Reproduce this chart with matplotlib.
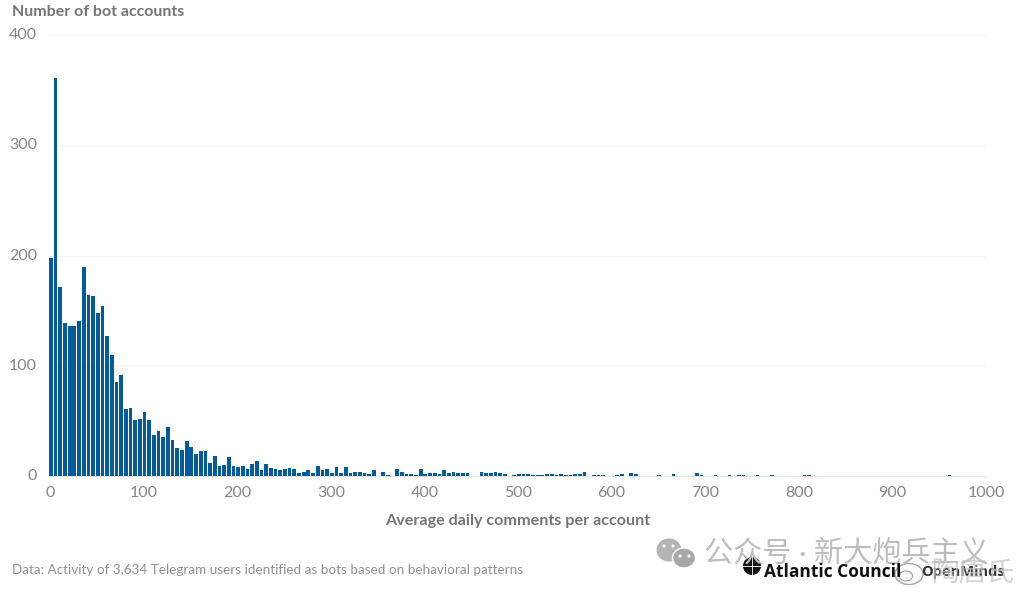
import matplotlib
matplotlib.use("Agg")
import matplotlib.pyplot as plt
from matplotlib.patches import Ellipse, Circle

plt.rcParams['font.family'] = ['Lato', 'Noto Sans CJK SC', 'DejaVu Sans']

bin_width = 5
# bot accounts per 5-comment bin
counts_0_200 = [198, 361, 171, 139, 136, 136, 141, 190, 164, 163,
                148, 154, 127, 110, 85, 92, 61, 62, 51, 52,
                58, 51, 37, 41, 35, 44, 33, 25, 24, 32,
                26, 20, 23, 23, 12, 18, 9, 10, 17, 9]
counts_200_400 = [8, 9, 6, 11, 14, 5, 11, 7, 6, 5,
                  6, 7, 6, 3, 4, 5, 3, 9, 5, 6,
                  3, 8, 3, 8, 3, 4, 4, 3, 2, 5,
                  0, 4, 1, 0, 6, 4, 2, 2, 1, 6]
counts_400_600 = [2, 3, 3, 2, 5, 3, 4, 3, 3, 3,
                  0, 0, 4, 3, 3, 4, 3, 2, 0, 1,
                  2, 2, 2, 1, 1, 1, 2, 2, 1, 2,
                  1, 1, 2, 2, 4, 0, 1, 1, 1, 0]
counts_600_800 = [0, 1, 2, 0, 3, 2, 0, 0, 0, 0,
                  1, 0, 0, 2, 0, 0, 0, 0, 3, 1,
                  0, 0, 1, 0, 0, 1, 0, 1, 1, 0,
                  0, 1, 0, 0, 1, 0, 0, 0, 0, 0]
counts_800_1000 = [0, 1, 1, 0, 0, 0, 0, 0, 0, 0,
                   0, 0, 0, 0, 0, 0, 0, 0, 0, 0,
                   0, 0, 0, 0, 0, 0, 0, 0, 0, 0,
                   0, 0, 1, 0, 0, 0, 0, 0, 0, 0]
counts = counts_0_200 + counts_200_400 + counts_400_600 + counts_600_800 + counts_800_1000
bin_centers = [bin_width * i + 1 for i in range(len(counts))]

x_ticks = [0, 100, 200, 300, 400, 500, 600, 700, 800, 900, 1000]
y_ticks = [0, 100, 200, 300, 400]

W, H = 1024, 595
fig = plt.figure(figsize=(W / 100, H / 100), dpi=100, facecolor='white')
ax = fig.add_axes([50 / W, 1 - 476 / H, 936 / W, 441 / H])

ax.bar(bin_centers, counts, width=4.0, color='#045a9b', zorder=3, clip_on=False)
ax.set_xlim(0, 1000)
ax.set_ylim(0, 400)
ax.set_xticks(x_ticks)
ax.set_yticks(y_ticks)
ax.grid(axis='y', color='#f5f5f5', linewidth=0.8, zorder=0)
for s in ['top', 'right', 'left']:
    ax.spines[s].set_visible(False)
ax.spines['bottom'].set_color('#e4e4e4')
ax.tick_params(length=0)
ax.tick_params(axis='x', labelsize=11.5, labelcolor='#858585', pad=7)
ax.tick_params(axis='y', labelsize=11.5, labelcolor='#858585', pad=0)
for lab in ax.get_yticklabels():
    lab.set_horizontalalignment('right')
    lab.set_x(-0.0138)
    lab.set_verticalalignment('center')
ax.set_xlabel('Average daily comments per account', fontsize=11.6, fontweight='bold',
              color='#757575', labelpad=10)

# overlay in pixel coordinates for header, footer and watermarks
ov = fig.add_axes([0, 0, 1, 1], zorder=5)
ov.set_xlim(0, W)
ov.set_ylim(H, 0)
ov.axis('off')
ov.patch.set_alpha(0)

ov.text(12, 12, 'Number of bot accounts', fontsize=11.5, fontweight='bold', color='#757575', va='center')
ov.text(12, 570, 'Data: Activity of 3,634 Telegram users identified as bots based on behavioral patterns',
        fontsize=9.75, color='#8f8f8f', va='center')

# wechat watermark
ov.add_patch(Ellipse((669, 550), 25, 23, color='#b4b4b4', lw=0))
ov.add_patch(Ellipse((684, 558), 23, 20, color='#a8a8a8', ec='white', lw=1))
for px, py in [(664, 546), (673, 546), (680, 556), (689, 556)]:
    ov.add_patch(Circle((px, py), 1.6, color='white', lw=0))
ov.text(704, 553, '公众号 · 新大炮兵主义', fontsize=21, color='#bdbdbd', va='center')

# atlantic council logo
ov.add_patch(Circle((752, 566), 9, color='#111111', lw=0))
ov.plot([743, 761], [566, 566], color='white', lw=0.6)
ov.plot([752, 752], [557, 575], color='white', lw=0.6)
ov.text(764, 572, 'Atlantic Council', fontsize=12.5, family='Open Sans', fontweight='bold',
        color='#111111', va='center')
ov.text(921, 572, 'OpenMinds', fontsize=10.5, family='Open Sans', fontweight='bold',
        color='#333333', va='center')

# weibo watermark
ov.add_patch(Ellipse((909, 574), 28, 21, fc='white', ec='#a0a0a0', lw=1, alpha=0.95))
ov.add_patch(Ellipse((906, 576), 13, 10, fc='none', ec='#a0a0a0', lw=0.8))
ov.text(932, 573, '陶唐氏', fontsize=20, color='#c4c4c4', alpha=0.75, va='center')

fig.savefig('out.png', dpi=100, facecolor='white')
